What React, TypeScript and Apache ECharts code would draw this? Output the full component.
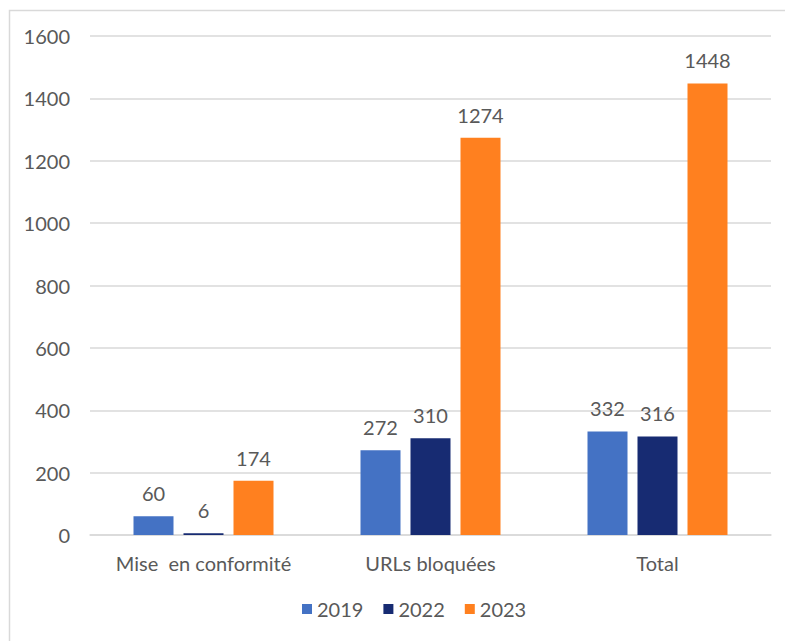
import React, { useEffect, useRef } from "react";
import * as echarts from "echarts";

const categories = ["Mise  en conformité", "URLs bloquées", "Total"];
const seriesNames = ["2019", "2022", "2023"];
const values2019 = [60, 272, 332];
const values2022 = [6, 310, 316];
const values2023 = [174, 1274, 1448];
const colors = ["#4472C4", "#172B72", "#FF801F"];

const FONT = "Lato";
const TEXT = "#595959";
const FS = 20;

export default function App() {
  const ref = useRef<HTMLDivElement>(null);
  useEffect(() => {
    if (!ref.current) return;
    const chart = echarts.init(ref.current, null, { renderer: "svg" });
    const data = [values2019, values2022, values2023];
    chart.setOption({
      animation: false,
      textStyle: { fontFamily: FONT, color: TEXT },
      graphic: [
        {
          type: "polyline",
          shape: { points: [[9.5, 641], [9.5, 10.5], [785, 10.5]] },
          style: { stroke: "#d9d9d9", lineWidth: 1.5, fill: "none" },
          silent: true,
        },
      ],
      grid: { left: 90, right: 14, top: 36, bottom: 106 },
      legend: {
        bottom: 17,
        left: 297,
        itemWidth: 10,
        itemHeight: 10,
        itemGap: 20,
        icon: "rect",
        textStyle: { fontFamily: FONT, fontSize: FS, color: TEXT },
        data: seriesNames,
      },
      xAxis: {
        type: "category",
        data: categories,
        axisLine: { show: true, lineStyle: { color: "#d9d9d9", width: 1.5 } },
        axisTick: { show: false },
        axisLabel: { fontFamily: FONT, fontSize: FS, color: TEXT, margin: 18, interval: 0 },
      },
      yAxis: {
        type: "value",
        min: 0,
        max: 1600,
        interval: 200,
        axisLine: { show: false },
        axisTick: { show: false },
        splitLine: { lineStyle: { color: "#d9d9d9", width: 1.5 } },
        axisLabel: {
          fontFamily: FONT,
          fontSize: FS,
          color: TEXT,
          margin: 20,
          formatter: (v: number) => String(v),
        },
      },
      series: seriesNames.map((name, i) => ({
        name,
        type: "bar",
        data: data[i],
        barWidth: 40,
        barGap: "25%",
        itemStyle: { color: colors[i] },
        label: {
          show: true,
          position: "top",
          distance: 13,
          fontFamily: FONT,
          fontSize: FS,
          color: TEXT,
        },
      })),
    });
    return () => chart.dispose();
  }, []);
  return (
    <div
      ref={ref}
      style={{ position: "absolute", left: 0, top: 0, width: 785, height: 641, background: "#fff" }}
    />
  );
}
